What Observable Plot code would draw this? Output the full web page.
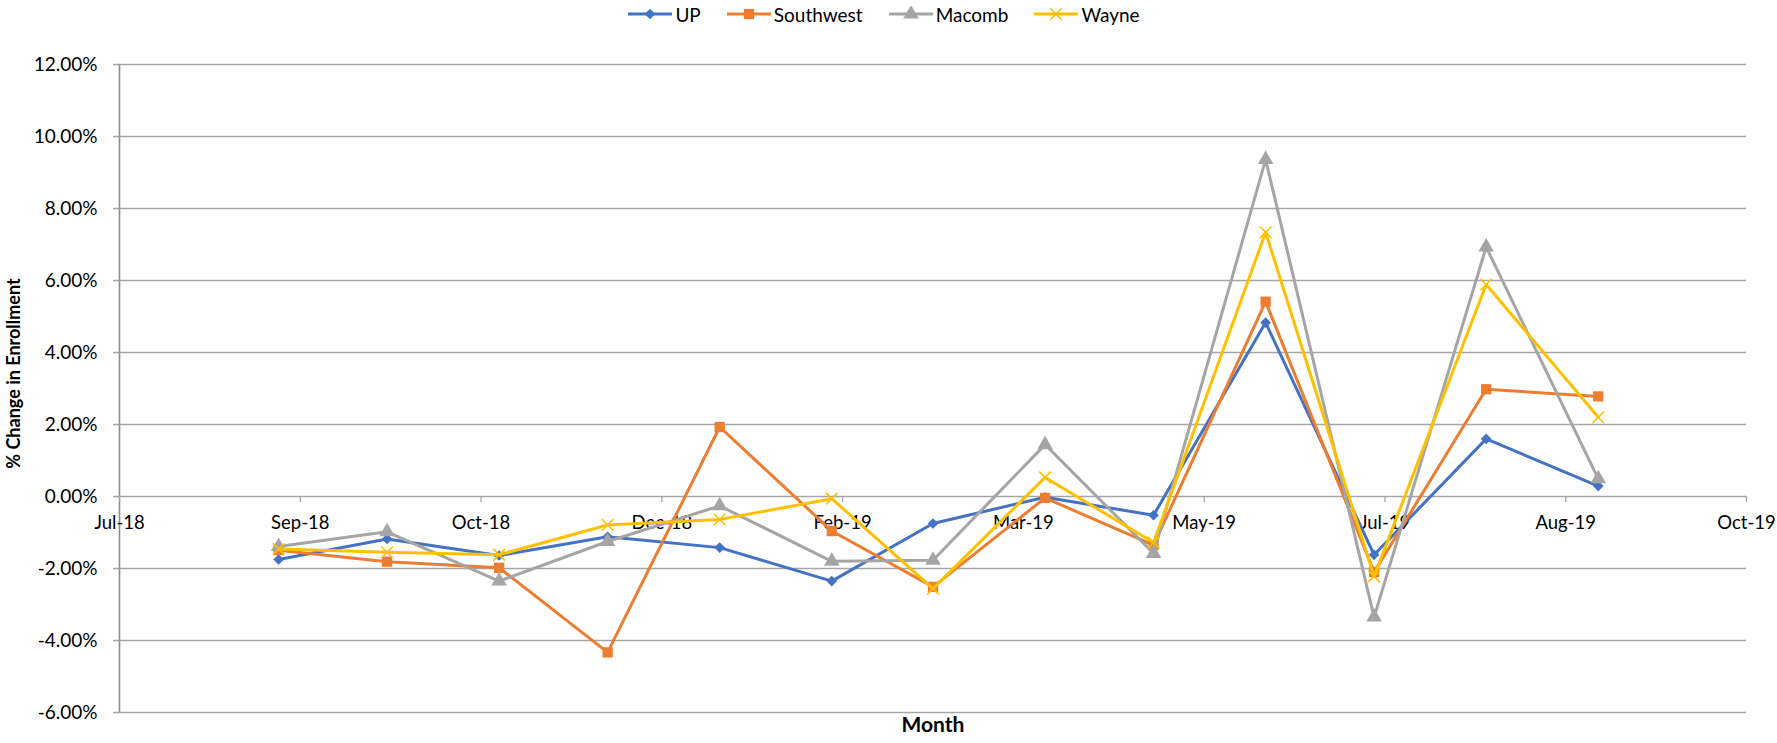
<!DOCTYPE html>
<html><head><meta charset="utf-8">
<script src="https://cdn.jsdelivr.net/npm/d3@7"></script>
<script src="https://cdn.jsdelivr.net/npm/@observablehq/plot@0.6"></script>
<style>
html,body{margin:0;padding:0;background:#fff;}
body{font-family:Lato,"Open Sans",sans-serif;color:#000;}
#legend{height:28px;display:flex;justify-content:center;align-items:center;gap:25px;font-size:19px;padding-right:10px;}
.item{display:flex;align-items:center;gap:2px;}
.item svg{display:block;}
</style></head><body>
<div id="legend"></div>
<div id="chart"></div>
<script>
// ---- data ----
const months = ["2018-09-01","2018-10-01","2018-11-01","2018-12-01","2019-01-01","2019-02-01","2019-03-01","2019-04-01","2019-05-01","2019-06-01","2019-07-01","2019-08-01","2019-09-01"];
const seriesNames = ["UP","Southwest","Macomb","Wayne"];
const upValues        = [-1.75,-1.18,-1.64,-1.12,-1.42,-2.35,-0.75,-0.02,-0.52, 4.83,-1.62, 1.60, 0.29];
const southwestValues = [-1.49,-1.81,-1.98,-4.33, 1.93,-0.96,-2.51,-0.04,-1.35, 5.41,-2.10, 2.98, 2.78];
const macombValues    = [-1.39,-0.98,-2.35,-1.25,-0.26,-1.80,-1.77, 1.44,-1.58, 9.36,-3.35, 6.93, 0.49];
const wayneValues     = [-1.46,-1.55,-1.62,-0.79,-0.64,-0.06,-2.56, 0.53,-1.28, 7.34,-2.22, 5.89, 2.20];
const xTickLabels = ["Jul-18","Sep-18","Oct-18","Dec-18","Feb-19","Mar-19","May-19","Jul-19","Aug-19","Oct-19"];
const xAxisStart = "2018-07-19";
const xTickStepDays = 50;
const yTicks = [-0.06,-0.04,-0.02,0,0.02,0.04,0.06,0.08,0.10,0.12];
const yTitle = "% Change in Enrollment";
const xTitle = "Month";

// ---- styles ----
const colors  = {UP:"#4472C4", Southwest:"#ED7D31", Macomb:"#A5A5A5", Wayne:"#FFC000"};
const symbols = {UP:"diamond2", Southwest:"square", Macomb:"triangle", Wayne:"times"};
const radii   = {UP:4.8, Southwest:5.8, Macomb:5.8, Wayne:5.3};
const valuesBy = {UP:upValues, Southwest:southwestValues, Macomb:macombValues, Wayne:wayneValues};

const rows = seriesNames.flatMap(s => months.map((m,i) => ({series:s, date:new Date(m+"T00:00:00Z"), value:valuesBy[s][i]/100})));
const start = new Date(xAxisStart+"T00:00:00Z");
const xTicks = xTickLabels.map((_,i) => d3.utcDay.offset(start, xTickStepDays*i));
const xDomain = [xTicks[0], xTicks[xTicks.length-1]];
const fmtPct = d => (d*100).toFixed(2) + "%";

const font = "Lato, 'Open Sans', sans-serif";
const gridColor = "#a6a6a6";

const marks = [
  Plot.ruleY(yTicks, {x1: xDomain[0], x2: xDomain[1], insetLeft: -6, stroke: gridColor, strokeWidth: 1.3}),
  Plot.ruleX([xDomain[0]], {y1: yTicks[0], y2: yTicks[yTicks.length-1], stroke: "#8c8c8c", strokeWidth: 1.6}),
  Plot.ruleX(xTicks, {y1: 0, y2: 0, insetBottom: -6, stroke: gridColor, strokeWidth: 1.3}),
  Plot.text(xTicks, {x: d => d, y: 0, text: (d,i) => xTickLabels[i], dy: 27, fontSize: 18.5, fill: "#000"}),
  Plot.text(yTicks, {x: xDomain[0], y: d => d, text: fmtPct, textAnchor: "end", dx: -22, fontSize: 19, fill: "#000"}),
  Plot.text([yTitle], {frameAnchor: "left", textAnchor: "middle", dx: -105, dy: -15, rotate: -90, fontWeight: "bold", fontSize: 18, fill: "#000"}),
  Plot.text([xTitle], {frameAnchor: "bottom", dy: 19, fontWeight: "bold", fontSize: 21, fill: "#000"})
];

for (const s of seriesNames) {
  const data = rows.filter(r => r.series === s);
  marks.push(Plot.line(data, {x: "date", y: "value", stroke: colors[s], strokeWidth: 3, strokeLinejoin: "round", strokeLinecap: "round"}));
  if (symbols[s] === "times") {
    marks.push(Plot.dot(data, {x: "date", y: "value", symbol: "times", r: radii[s], stroke: colors[s], strokeWidth: 1.6}));
  } else {
    marks.push(Plot.dot(data, {x: "date", y: "value", symbol: symbols[s], r: radii[s], fill: colors[s], stroke: "none"}));
  }
}

const chart = Plot.plot({
  width: 1777,
  height: 715,
  marginLeft: 119,
  marginRight: 31,
  marginTop: 36,
  marginBottom: 31,
  style: {fontFamily: font, background: "#fff", color: "#000", overflow: "visible"},
  x: {type: "utc", domain: xDomain, axis: null},
  y: {domain: [yTicks[0], yTicks[yTicks.length-1]], axis: null},
  marks
});
document.getElementById("chart").appendChild(chart);

// ---- legend ----
const legend = d3.select("#legend");
const symMap = {diamond2: d3.symbolDiamond2, square: d3.symbolSquare, triangle: d3.symbolTriangle, times: d3.symbolTimes};
for (const s of seriesNames) {
  const item = legend.append("div").attr("class","item");
  const svg = item.append("svg").attr("width", 46).attr("height", 16);
  svg.append("line").attr("x1",1).attr("x2",45).attr("y1",8).attr("y2",8).attr("stroke",colors[s]).attr("stroke-width",3);
  const size = Math.PI * radii[s] * radii[s];
  const p = svg.append("path").attr("d", d3.symbol(symMap[symbols[s]], size)()).attr("transform","translate(23,8)");
  if (symbols[s] === "times") p.attr("fill","none").attr("stroke",colors[s]).attr("stroke-width",1.6);
  else p.attr("fill",colors[s]);
  item.append("span").text(s);
}
</script>
</body></html>
